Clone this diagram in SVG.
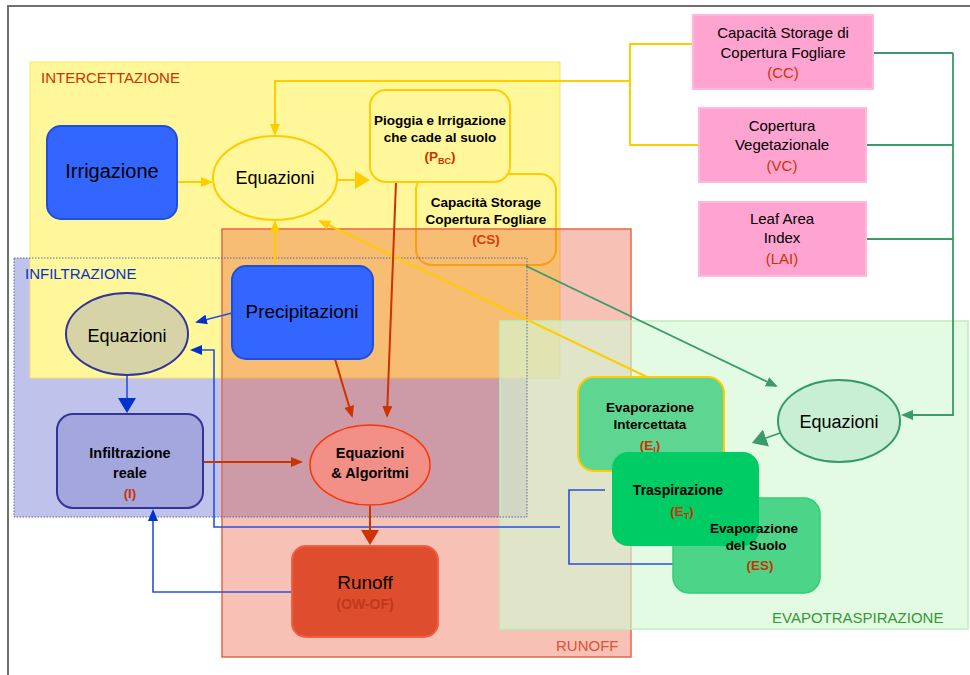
<svg xmlns="http://www.w3.org/2000/svg" width="970" height="675" viewBox="0 0 970 675">
<defs>
<style>
text{font-family:"Liberation Sans",Arial,sans-serif;fill:#000;text-anchor:middle}
.big{font-size:19px}
.med{font-size:18px}
.sm{font-size:13.5px;font-weight:bold}
.pk{font-size:15px}
.red{fill:#CC3300}
.reg{font-size:15px;text-anchor:start}
.cy{fill:none;stroke:#FFCC00;stroke-width:2}
.cg{fill:none;stroke:#3A9A6A;stroke-width:1.8}
.cb{fill:none;stroke:#2A4FE0;stroke-width:1.6}
.cr{fill:none;stroke:#CC3300;stroke-width:2}
.pink{fill:#FFA3D1;stroke:#FFB8DC;stroke-width:2}
</style>
<marker id="my" markerUnits="userSpaceOnUse" markerWidth="12" markerHeight="10" refX="10" refY="5" orient="auto"><path d="M0,0L12,5L0,10z" fill="#FFCC00"/></marker>
<marker id="mg" markerUnits="userSpaceOnUse" markerWidth="12" markerHeight="10" refX="10" refY="5" orient="auto"><path d="M0,0L12,5L0,10z" fill="#3A9A6A"/></marker>
<marker id="mb" markerUnits="userSpaceOnUse" markerWidth="12" markerHeight="10" refX="10" refY="5" orient="auto"><path d="M0,0L12,5L0,10z" fill="#0033CC"/></marker>
<marker id="mr" markerUnits="userSpaceOnUse" markerWidth="12" markerHeight="10" refX="10" refY="5" orient="auto"><path d="M0,0L12,5L0,10z" fill="#CC3300"/></marker>
<marker id="myb" markerUnits="userSpaceOnUse" markerWidth="16" markerHeight="18" refX="0" refY="9" orient="auto"><path d="M0,0L15,9L0,18z" fill="#FFCC00"/></marker>
<marker id="mgb" markerUnits="userSpaceOnUse" markerWidth="16" markerHeight="18" refX="0" refY="9" orient="auto"><path d="M0,0L15,9L0,18z" fill="#3A9A6A"/></marker>
<marker id="mbb" markerUnits="userSpaceOnUse" markerWidth="16" markerHeight="18" refX="0" refY="9" orient="auto"><path d="M0,0L15,9L0,18z" fill="#0033CC"/></marker>
<marker id="mrb" markerUnits="userSpaceOnUse" markerWidth="16" markerHeight="18" refX="0" refY="9" orient="auto"><path d="M0,0L15,9L0,18z" fill="#CC3300"/></marker>
</defs>
<rect width="970" height="675" fill="#FFFFFF"/>
<path d="M8,675V6H970" fill="none" stroke="#707070" stroke-width="2"/>

<g id="region-infiltrazione">
<rect x="14" y="258" width="513" height="259" fill="#BFC3EC"/>
</g>
<g id="region-intercettazione">
<rect x="30" y="62" width="530" height="316" fill="#FFF799" stroke="#FFE066" stroke-width="1"/>
</g>
<g id="node-cs">
<rect x="416" y="174" width="140" height="91" rx="16" fill="#FFF799" stroke="#FFCC00" stroke-width="2"/>
<text class="sm" x="486" y="207">Capacità Storage</text>
<text class="sm" x="486" y="224">Copertura Fogliare</text>
<text class="sm red" x="486" y="244">(CS)</text>
</g>
<g id="region-runoff">
<rect x="222" y="229" width="409" height="428" fill="#E8502A" fill-opacity="0.35" stroke="#E8664A" stroke-width="1.5"/>
</g>
<g id="region-evapotraspirazione">
<rect x="500" y="321" width="468" height="308" fill="#D4F7D4" fill-opacity="0.65" stroke="#BDF0BD" stroke-width="1.5"/>
</g>
<rect x="14" y="258" width="513" height="259" fill="none" stroke="#5A64B0" stroke-width="1" stroke-dasharray="1.5 1.5"/>

<g id="region-labels">
<text class="reg" x="41" y="83" fill="#CC3300" style="fill:#CC3300">INTERCETTAZIONE</text>
<text class="reg" x="25" y="279" style="fill:#0033CC">INFILTRAZIONE</text>
<text class="reg" x="556" y="651" style="fill:#E05030">RUNOFF</text>
<text class="reg" x="772" y="623" style="fill:#339933">EVAPOTRASPIRAZIONE</text>
</g>

<g id="connectors">
<path class="cy" d="M177,182H211" marker-end="url(#my)"/>
<path class="cy" d="M337,180H355" stroke-width="6" marker-end="url(#myb)"/>
<path class="cy" d="M693,44H630V145H698M630,81H275V134" stroke-width="1.5" marker-end="url(#my)"/>
<path class="cy" d="M275,266V222" marker-end="url(#my)"/>
<path class="cy" d="M647,377L320,221" marker-end="url(#my)"/>
<path class="cg" d="M526,266L776,386" stroke-width="2" marker-end="url(#mg)"/>
<path class="cg" d="M873,53H953M866,145H953M866,239H953M953,53V415H903" marker-end="url(#mg)"/>
<path class="cg" d="M780,433L766,438" stroke-width="5" marker-end="url(#mgb)"/>
<path class="cb" d="M232,313L197,322" stroke="#0033CC" stroke-width="2" marker-end="url(#mb)"/>
<path class="cb" d="M127,376V398" stroke="#0033CC" stroke-width="6" marker-end="url(#mbb)"/>
<path class="cb" d="M605,490H569V564H674"/>
<path class="cb" d="M560,527H214V350H192" marker-end="url(#mb)"/>
<path class="cb" d="M292,592H153V511" stroke="#0033CC" stroke-width="2" marker-end="url(#mb)"/>
<path class="cr" d="M335,359L352,416" marker-end="url(#mr)"/>
<path class="cr" d="M396,182L387,416" marker-end="url(#mr)"/>
<path class="cr" d="M203,462H301" stroke-width="1.6" marker-end="url(#mr)"/>
<path class="cr" d="M370,506V530" stroke-width="6" marker-end="url(#mrb)"/>
</g>

<g id="node-irrigazione">
<rect x="47" y="126" width="130" height="93" rx="14" fill="#3366FF" stroke="#1F4FD8" stroke-width="2"/>
<text x="112" y="178" style="font-size:20px">Irrigazione</text>
</g>
<g id="node-equazioni-intercettazione">
<ellipse cx="275" cy="178" rx="62" ry="42" fill="#FFF799" stroke="#FFCC00" stroke-width="2"/>
<text class="med" x="275" y="184">Equazioni</text>
</g>
<g id="node-pbc">
<rect x="370" y="90" width="140" height="92" rx="16" fill="#FFF799" stroke="#FFCC00" stroke-width="2"/>
<text class="sm" x="440" y="125">Pioggia e Irrigazione</text>
<text class="sm" x="440" y="142">che cade al suolo</text>
<text class="sm red" x="440" y="161">(P<tspan style="font-size:9px" dy="3">BC</tspan><tspan dy="-3">)</tspan></text>
</g>
<g id="node-cc">
<rect class="pink" x="693" y="15" width="180" height="74"/>
<text class="pk" x="783" y="38">Capacità Storage di</text>
<text class="pk" x="783" y="58">Copertura Fogliare</text>
<text class="pk red" x="783" y="78">(CC)</text>
</g>
<g id="node-vc">
<rect class="pink" x="699" y="108" width="167" height="74"/>
<text class="pk" x="782" y="131">Copertura</text>
<text class="pk" x="782" y="150">Vegetazionale</text>
<text class="pk red" x="782" y="171">(VC)</text>
</g>
<g id="node-lai">
<rect class="pink" x="699" y="202" width="167" height="74"/>
<text class="pk" x="782" y="224">Leaf Area</text>
<text class="pk" x="782" y="243">Index</text>
<text class="pk red" x="782" y="264">(LAI)</text>
</g>
<g id="node-precipitazioni">
<rect x="232" y="266" width="141" height="93" rx="14" fill="#3366FF" stroke="#1F4FD8" stroke-width="2"/>
<text class="big" x="302" y="318">Precipitazioni</text>
</g>
<g id="node-equazioni-infiltrazione">
<ellipse cx="127" cy="334" rx="61" ry="41" fill="#D6D3A6" stroke="#333399" stroke-width="2"/>
<text class="med" x="127" y="342">Equazioni</text>
</g>
<g id="node-infiltrazione-reale">
<rect x="57" y="414" width="146" height="94" rx="16" fill="#A3A7DD" stroke="#333399" stroke-width="2"/>
<text class="sm" x="130" y="458" style="font-size:14.5px">Infiltrazione</text>
<text class="sm" x="130" y="478" style="font-size:14.5px">reale</text>
<text class="sm red" x="130" y="498">(I)</text>
</g>
<g id="node-equazioni-algoritmi">
<ellipse cx="370" cy="465" rx="60" ry="40" fill="#F29088" stroke="#FF3300" stroke-width="1.5"/>
<text class="sm" x="370" y="458" style="font-size:14.5px">Equazioni</text>
<text class="sm" x="370" y="478" style="font-size:14.5px">&amp; Algoritmi</text>
</g>
<g id="node-runoff">
<rect x="292" y="546" width="146" height="91" rx="14" fill="#DE4E2E" stroke="#F06040" stroke-width="2"/>
<text class="big" x="365" y="589">Runoff</text>
<text x="365" y="609" style="font-size:14px;fill:#C0381C;font-weight:bold">(OW-OF)</text>
</g>
<g id="node-ei">
<rect x="578" y="377" width="146" height="94" rx="16" fill="#5ED692" stroke="#FFCC00" stroke-width="2"/>
<text class="sm" x="650" y="412">Evaporazione</text>
<text class="sm" x="650" y="429">Intercettata</text>
<text class="sm red" x="650" y="450">(E<tspan style="font-size:9px" dy="3">I</tspan><tspan dy="-3">)</tspan></text>
</g>
<g id="node-es">
<rect x="673" y="498" width="147" height="95" rx="16" fill="#4CD488" stroke="#33CC77" stroke-width="1.5"/>
</g>
<g id="node-et">
<rect x="612" y="452" width="147" height="94" rx="16" fill="#00CC66"/>
<text class="sm" x="678" y="495" style="font-size:14px">Traspirazione</text>
<text class="sm red" x="682" y="516">(E<tspan style="font-size:9px" dy="3">T</tspan><tspan dy="-3">)</tspan></text>
</g>
<g id="node-es-text">
<text class="sm" x="754" y="533">Evaporazione</text>
<text class="sm" x="756" y="550">del Suolo</text>
<text class="sm red" x="760" y="570">(ES)</text>
</g>
<g id="node-equazioni-evapotraspirazione">
<ellipse cx="839" cy="421" rx="61" ry="41" fill="#C9EFD2" stroke="#339966" stroke-width="2"/>
<text class="med" x="839" y="428">Equazioni</text>
</g>
</svg>
